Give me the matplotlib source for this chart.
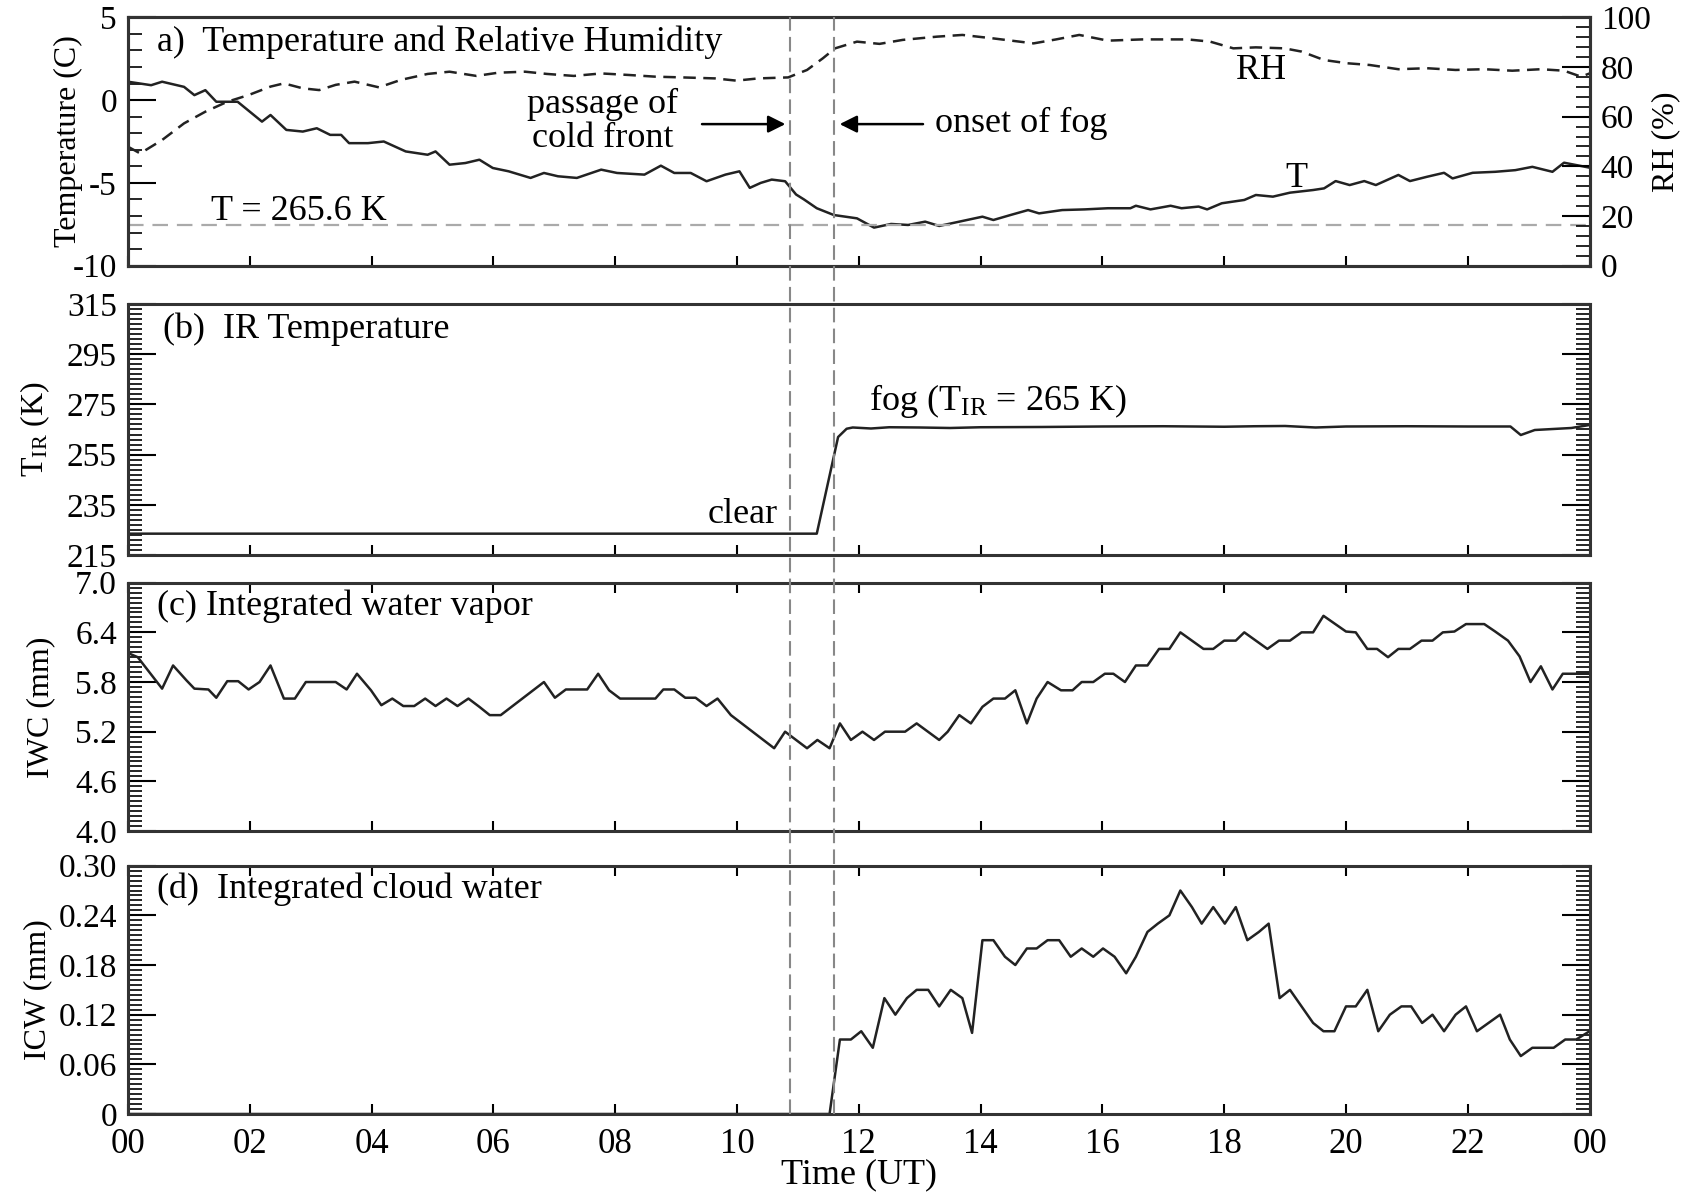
import matplotlib
matplotlib.use("Agg")
import matplotlib.pyplot as plt
from matplotlib.lines import Line2D
from matplotlib.ticker import MultipleLocator, FuncFormatter
from matplotlib.transforms import blended_transform_factory

plt.rcParams["font.family"] = "Liberation Serif"
plt.rcParams["mathtext.fontset"] = "custom"
plt.rcParams["mathtext.rm"] = "Liberation Serif"
plt.rcParams["mathtext.it"] = "Liberation Serif:italic"
plt.rcParams["axes.unicode_minus"] = False
plt.rcParams["font.size"] = 26
plt.rcParams["xtick.labelsize"] = 25
plt.rcParams["ytick.labelsize"] = 24

# (a) air temperature (C) and relative humidity (%)
t_hours = [0.0, 0.38, 0.56, 0.92, 1.09, 1.27, 1.45, 1.8, 2.2, 2.34, 2.6, 2.87, 3.1, 3.32, 3.5,
           3.63, 3.94, 4.2, 4.56, 4.92, 5.05, 5.28, 5.54, 5.77, 5.99, 6.25, 6.61, 6.83, 7.06,
           7.37, 7.77, 8.03, 8.48, 8.75, 8.97, 9.24, 9.5, 9.81, 10.04, 10.21, 10.39, 10.57,
           10.79, 10.97, 11.1, 11.31, 11.59, 11.97, 12.25, 12.53, 12.81, 13.09, 13.32, 13.65,
           14.03, 14.21, 14.49, 14.78, 14.96, 15.34, 15.71, 16.09, 16.46, 16.55, 16.79, 17.12,
           17.3, 17.58, 17.72, 17.96, 18.33, 18.52, 18.8, 19.08, 19.46, 19.64, 19.83, 20.06,
           20.3, 20.49, 20.86, 21.05, 21.33, 21.61, 21.75, 22.08, 22.45, 22.78, 23.06, 23.39,
           23.58, 24.0]
t_air = [1.11, 0.9, 1.11, 0.8, 0.3, 0.6, -0.1, -0.1, -1.3, -0.9, -1.8, -1.9, -1.7, -2.1, -2.1,
         -2.6, -2.6, -2.5, -3.1, -3.3, -3.1, -3.9, -3.8, -3.6, -4.1, -4.3, -4.7, -4.4, -4.6,
         -4.7, -4.2, -4.4, -4.5, -3.96, -4.4, -4.4, -4.9, -4.5, -4.3, -5.3, -5.0, -4.8,
         -4.9, -5.7, -6.0, -6.53, -6.94, -7.14, -7.7, -7.48, -7.54, -7.34, -7.6, -7.34,
         -7.04, -7.24, -6.94, -6.64, -6.84, -6.64, -6.6, -6.53, -6.53, -6.38, -6.6, -6.38,
         -6.53, -6.43, -6.6, -6.23, -6.03, -5.73, -5.83, -5.59, -5.43, -5.33, -4.89, -5.13,
         -4.89, -5.13, -4.52, -4.89, -4.63, -4.39, -4.73, -4.39, -4.33, -4.23, -4.03, -4.33,
         -3.78, -4.08]
rh_hours = [0.0, 0.2, 0.56, 0.92, 1.27, 1.63, 1.98, 2.34, 2.56, 2.87, 3.14, 3.41, 3.72, 4.12,
            4.48, 4.92, 5.28, 5.72, 6.08, 6.52, 6.88, 7.32, 7.77, 8.21, 8.66, 9.1, 9.64, 9.99,
            10.35, 10.84, 11.15, 11.41, 11.61, 11.97, 12.34, 12.72, 13.28, 13.7, 14.21, 14.87,
            15.24, 15.62, 16.09, 16.65, 17.4, 17.77, 18.15, 18.52, 18.99, 19.27, 19.64, 20.02,
            20.39, 20.86, 21.33, 21.8, 22.27, 22.73, 23.2, 23.58, 23.86, 24.0]
rh = [47.9, 45.2, 50.6, 57.3, 62.0, 66.0, 68.7, 72.1, 73.4, 71.4, 70.7, 72.8, 74.1, 71.8,
      74.8, 77.2, 78.1, 76.4, 77.7, 78.1, 77.2, 76.4, 77.4, 76.8, 76.1, 75.8, 75.4, 74.5,
      75.4, 75.8, 78.8, 83.5, 87.5, 90.2, 89.3, 90.9, 92.2, 92.9, 91.5, 89.5,
      91.1, 92.9, 90.6, 91.1, 91.1, 90.2, 87.5, 87.9, 87.5, 86.2, 82.8, 81.5,
      80.8, 79.1, 79.5, 78.8, 79.1, 78.5, 79.1, 78.5, 76.1, 77.4]

# (b) IR brightness temperature (K)
tir_hours = [0.0, 11.31, 11.66, 11.8, 11.9, 12.2, 12.5, 13.0, 13.5, 14.0, 15.0, 16.0, 17.0,
             18.0, 18.5, 19.0, 19.5, 20.0, 21.0, 22.0, 22.7, 22.87, 23.1, 23.4, 23.7, 24.0]
t_ir = [223.5, 223.5, 262.0, 265.3, 265.8, 265.4, 265.9, 265.8, 265.6, 265.9, 266.0, 266.2,
        266.3, 266.1, 266.3, 266.4, 265.8, 266.2, 266.3, 266.2, 266.2, 262.8, 264.8, 265.2,
        265.6, 266.8]

# (c) integrated water vapour (mm)
iwv_hours = [0.0, 0.16, 0.56, 0.74, 0.96, 1.09, 1.32, 1.45, 1.63, 1.81, 1.98, 2.16, 2.34, 2.56,
             2.74, 2.92, 3.41, 3.59, 3.76, 3.99, 4.16, 4.34, 4.52, 4.7, 4.88, 5.05, 5.23, 5.41,
             5.59, 5.77, 5.94, 6.12, 6.83, 7.01, 7.19, 7.54, 7.72, 7.9, 8.08, 8.66, 8.79, 8.97,
             9.15, 9.32, 9.5, 9.68, 9.9, 10.61, 10.79, 11.15, 11.32, 11.52, 11.69, 11.87, 12.06,
             12.25, 12.43, 12.76, 12.95, 13.32, 13.46, 13.65, 13.84, 14.03, 14.21, 14.4, 14.57,
             14.76, 14.92, 15.1, 15.32, 15.51, 15.66, 15.85, 16.04, 16.18, 16.37, 16.55, 16.74,
             16.93, 17.1, 17.28, 17.66, 17.82, 18.0, 18.19, 18.33, 18.71, 18.9, 19.08, 19.27,
             19.46, 19.63, 20.0, 20.16, 20.35, 20.51, 20.69, 20.86, 21.05, 21.24, 21.42, 21.59,
             21.78, 21.97, 22.27, 22.45, 22.66, 22.85, 23.03, 23.2, 23.39, 23.56, 24.0]
iwv = [6.15, 6.1, 5.72, 6.0, 5.82, 5.72, 5.71, 5.61, 5.81, 5.81, 5.71, 5.8, 6.0, 5.6,
       5.6, 5.8, 5.8, 5.71, 5.9, 5.7, 5.52, 5.6, 5.51, 5.51, 5.6, 5.51, 5.6, 5.51,
       5.6, 5.5, 5.4, 5.4, 5.8, 5.61, 5.71, 5.71, 5.9, 5.7, 5.6, 5.6, 5.71, 5.71,
       5.61, 5.61, 5.51, 5.6, 5.4, 5.0, 5.2, 5.0, 5.1, 5.0, 5.3, 5.1, 5.2,
       5.1, 5.2, 5.2, 5.3, 5.1, 5.2, 5.4, 5.3, 5.5, 5.6, 5.6, 5.7,
       5.3, 5.6, 5.8, 5.7, 5.7, 5.8, 5.8, 5.9, 5.9, 5.8, 6.0, 6.0,
       6.2, 6.2, 6.4, 6.2, 6.2, 6.3, 6.3, 6.4, 6.2, 6.3, 6.3, 6.4,
       6.4, 6.6, 6.41, 6.4, 6.2, 6.2, 6.1, 6.2, 6.2, 6.3, 6.3, 6.4,
       6.41, 6.5, 6.5, 6.41, 6.3, 6.11, 5.8, 5.99, 5.71, 5.9, 5.9]

# (d) integrated cloud liquid water (mm)
icw_hours = [0.0, 11.52, 11.69, 11.87, 12.04, 12.23, 12.42, 12.6, 12.79, 12.95, 13.14, 13.32,
             13.51, 13.7, 13.86, 14.03, 14.21, 14.4, 14.57, 14.76, 14.92, 15.1, 15.29, 15.48,
             15.66, 15.85, 16.01, 16.2, 16.39, 16.55, 16.74, 16.91, 17.1, 17.28, 17.47, 17.63,
             17.82, 18.01, 18.19, 18.38, 18.57, 18.73, 18.91, 19.08, 19.27, 19.46, 19.63, 19.81,
             20.0, 20.16, 20.35, 20.53, 20.72, 20.91, 21.07, 21.25, 21.42, 21.61, 21.8, 21.97,
             22.15, 22.34, 22.53, 22.69, 22.87, 23.06, 23.41, 23.6, 23.78, 24.0]
icw = [0.0, 0.0, 0.09, 0.09, 0.1, 0.08, 0.14, 0.12, 0.14, 0.15, 0.15, 0.13,
       0.15, 0.14, 0.098, 0.21, 0.21, 0.19, 0.18, 0.2, 0.2, 0.21, 0.21, 0.19,
       0.2, 0.19, 0.2, 0.19, 0.17, 0.19, 0.22, 0.23, 0.24, 0.27, 0.25, 0.23,
       0.25, 0.23, 0.25, 0.21, 0.22, 0.23, 0.14, 0.15, 0.13, 0.11, 0.1, 0.1,
       0.13, 0.13, 0.15, 0.1, 0.12, 0.13, 0.13, 0.11, 0.12, 0.1, 0.12, 0.13,
       0.1, 0.11, 0.12, 0.09, 0.07, 0.08, 0.08, 0.09, 0.09, 0.1]

front_time = 10.87   # passage of cold front (UT hours)
fog_time = 11.6      # onset of fog
t_fog_k = 265.6
t_fog_c = t_fog_k - 273.15

LINE = "#222222"
SPINE = "#333333"
W, H = 1694, 1192
fig = plt.figure(figsize=(W / 100, H / 100), dpi=100)


def panel(top, bottom, left=128, right=1589.6):
    return fig.add_axes([left / W, 1 - bottom / H, (right - left) / W, (bottom - top) / H])


def style(ax, right=True, top=False):
    ax.set_xlim(0, 24)
    ax.xaxis.set_major_locator(MultipleLocator(2))
    ax.tick_params(axis="x", which="major", direction="in", length=7, width=1.5,
                   top=top, labelbottom=False, pad=10)
    ax.tick_params(axis="y", which="major", direction="in", length=20, width=1.5,
                   right=right, pad=8)
    ax.tick_params(axis="y", which="minor", direction="in", length=10, width=1.2,
                   right=right)
    for s in ax.spines.values():
        s.set_linewidth(2.2)
        s.set_color(SPINE)


axa = panel(17.3, 265.7)
axb = panel(304, 555)
axc = panel(582.7, 831)
axd = panel(865.7, 1114)

# ---- (a) temperature and RH
style(axa, right=False)
axa.plot(t_hours, t_air, color=LINE, lw=1.8)
axa.axhline(t_fog_c, color="#aaaaaa", lw=1.6, ls=(0, (7, 4)))
axa.set_ylim(-10, 5)
axa.yaxis.set_major_locator(MultipleLocator(5))
axa.yaxis.set_minor_locator(MultipleLocator(1))
axa.set_ylabel("Temperature (C)", fontsize=23)
axa.yaxis.set_label_coords(-0.031, 0.5)

axr = axa.twinx()
axr.plot(rh_hours, rh, color=LINE, lw=1.8, ls=(0, (5, 3)))
axr.set_ylim(0, 100)
axr.yaxis.set_major_locator(MultipleLocator(20))
axr.yaxis.set_minor_locator(MultipleLocator(4))
axr.tick_params(axis="y", which="major", direction="in", length=20, width=1.5, pad=8)
axr.tick_params(axis="y", which="minor", direction="in", length=10, width=1.2)
axr.set_ylabel("RH (%)", rotation=90, fontsize=23)
axr.yaxis.set_label_coords(1.042, 0.5)
for s in axr.spines.values():
    s.set_linewidth(2.2)
    s.set_color(SPINE)

axa.text(0.0198, 0.864, "a)  Temperature and Relative Humidity", transform=axa.transAxes,
         ha="left", va="baseline")
axa.text(1.36, -7.24, "T = 265.6 K", ha="left", va="baseline")
axa.text(18.6, 1.27, "RH", ha="center", va="baseline")
axa.text(19.18, -5.25, "T", ha="center", va="baseline")
# two-line label: baseline alignment refers to the lower line
axa.text(7.8, -2.83, "passage of\ncold front", ha="center", va="baseline", linespacing=1.05)
axa.annotate("", xy=(front_time - 0.03, -1.45), xytext=(9.38, -1.45),
             arrowprops=dict(arrowstyle="-|>", color="k", lw=1.8, mutation_scale=26))
axa.annotate("", xy=(fog_time + 0.04, -1.45), xytext=(13.1, -1.45),
             arrowprops=dict(arrowstyle="-|>", color="k", lw=1.8, mutation_scale=26))
axa.text(13.25, -1.93, "onset of fog", ha="left", va="baseline")

# ---- (b) IR temperature
style(axb)
axb.plot(tir_hours, t_ir, color=LINE, lw=1.8)
axb.set_ylim(215, 315)
axb.yaxis.set_major_locator(MultipleLocator(20, offset=15))
axb.yaxis.set_minor_locator(MultipleLocator(2, offset=1))
axb.set_ylabel(r"T$_{\rm IR}$ (K)", fontsize=23)
axb.yaxis.set_label_coords(-0.052, 0.5)
axb.text(0.0237, 0.863, "(b)  IR Temperature", transform=axb.transAxes,
         ha="left", va="baseline")
axb.text(10.67, 227.6, "clear", ha="right", va="baseline")
axb.text(12.16, 272.8, r"fog (T$_{\rm IR}$ = 265 K)", ha="left", va="baseline")

# ---- (c) integrated water vapour
style(axc, top=True)
axc.plot(iwv_hours, iwv, color=LINE, lw=1.8)
axc.set_ylim(4.0, 7.0)
axc.yaxis.set_major_locator(MultipleLocator(0.6, offset=0.4))
axc.yaxis.set_minor_locator(MultipleLocator(0.06, offset=0.04))
axc.yaxis.set_major_formatter(FuncFormatter(lambda v, p: f"{v:.1f}"))
axc.set_ylabel("IWC (mm)", fontsize=23)
axc.yaxis.set_label_coords(-0.050, 0.5)
axc.text(0.0198, 0.870, "(c) Integrated water vapor", transform=axc.transAxes,
         ha="left", va="baseline")

# ---- (d) integrated cloud water
style(axd, top=True)
axd.plot(icw_hours, icw, color=LINE, lw=1.8)
axd.set_ylim(0, 0.30)
axd.yaxis.set_major_locator(MultipleLocator(0.06))
axd.yaxis.set_minor_locator(MultipleLocator(0.006))
axd.yaxis.set_major_formatter(FuncFormatter(lambda v, p: "0" if abs(v) < 1e-9 else f"{v:.2f}"))
axd.set_ylabel("ICW (mm)", fontsize=23)
axd.yaxis.set_label_coords(-0.052, 0.5)
axd.tick_params(axis="x", labelbottom=True)
axd.xaxis.set_major_formatter(FuncFormatter(lambda v, p: f"{int(round(v)) % 24:02d}"))
axd.set_xlabel("Time (UT)", labelpad=-2)
axd.text(0.0198, 0.870, "(d)  Integrated cloud water", transform=axd.transAxes,
         ha="left", va="baseline")

# event markers spanning all four panels
tr = blended_transform_factory(axd.transData, fig.transFigure)
y_lo = axd.get_position().y0
y_hi = axa.get_position().y1
for t in (front_time, fog_time):
    fig.add_artist(Line2D([t, t], [y_lo, y_hi], transform=tr, color="#888888",
                          lw=1.5, ls=(0, (7, 3))))

fig.savefig("out.png", dpi=100)
